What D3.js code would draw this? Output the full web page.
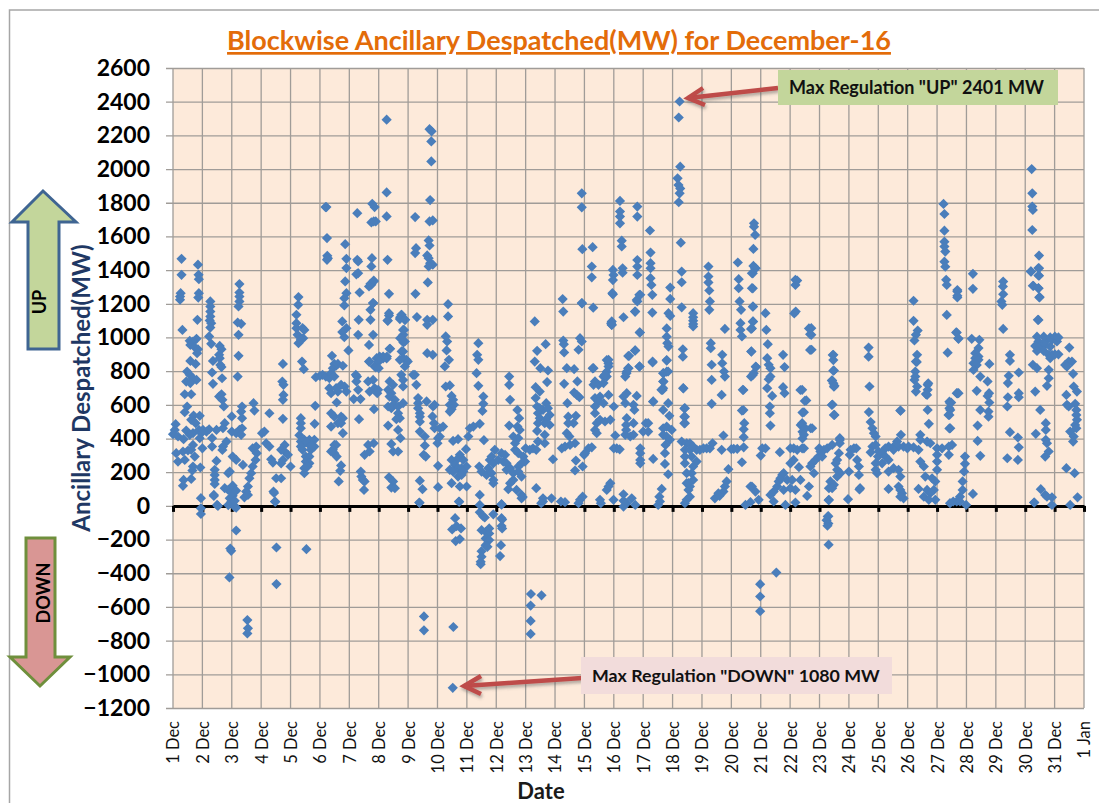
<!DOCTYPE html>
<html>
<head>
<meta charset="utf-8">
<script src="https://cdn.jsdelivr.net/npm/d3@7"></script>
<style>
  body { margin: 0; background: #fff; }
  text { font-family: Lato, "Open Sans", sans-serif; }
  .yAxis text { font-size: 23px; font-weight: 700; fill: #000; }
  .xAxis text { font-size: 16.5px; fill: #111; }
</style>
</head>
<body>
<div id="chart"></div>
<script>
// values: [fraction of the day, MW], one list per day
const dec01 = [[.29,1467],[.29,1372],[.26,1263],[.24,1243],[.24,1224],[.32,1045],[.85,1432],[.87,1372],[.88,1346],[.88,1263],[.86,1237],[.83,1105],[.8,992],[.57,980],[.68,976],[.59,956],[.74,942],[.85,930],[.82,907],[.59,861],[.77,843],[.48,798],[.57,778],[.68,758],[.45,738],[.8,748],[.59,729],[.4,663],[.62,663],[.48,590],[.4,556],[.7,536],[.91,535],[.62,511],[.77,491],[.09,485],[.06,451],[0,426],[.17,412],[.36,396],[.45,447],[.57,422],[.68,432],[.88,451],[.96,432],[.91,402],[.11,313],[.34,323],[.51,329],[.68,362],[.62,333],[.74,293],[.4,273],[.17,263],[.68,234],[.66,210],[.93,228],[.36,154],[.62,160],[.34,119],[.95,46],[.95,-14],[.95,-48]];
const dec02 = [[.27,1214],[.27,1184],[.27,1154],[.27,1125],[.25,1101],[.3,1085],[.27,1059],[.23,1006],[.3,962],[.59,950],[.65,930],[.57,897],[.36,861],[.59,877],[.61,837],[.65,824],[.33,792],[.67,758],[.36,725],[.65,663],[.57,649],[.68,630],[.73,590],[.76,491],[.7,461],[.48,451],[.14,441],[.02,451],[.23,455],[.33,402],[.33,352],[0,342],[.82,382],[.7,352],[.68,332],[.48,267],[.42,214],[.42,184],[.42,154],[.42,130],[.39,65],[.5,6],[.88,194],[.93,204],[.76,105],[.88,95],[.99,85],[.93,45],[.99,25],[.88,5],[.39,59],[.53,0],[.95,-253],[.98,-267],[.92,-425]];
const dec03 = [[0,531],[.26,1317],[.26,1267],[.26,1243],[.26,1214],[.23,1184],[.2,1089],[.32,1081],[.23,1016],[.23,891],[.2,768],[.74,610],[.35,590],[.32,560],[.77,566],[.35,521],[0,441],[.26,451],[.35,461],[.15,432],[.32,422],[.03,293],[.15,273],[.38,243],[.71,342],[.83,352],[.85,313],[.81,273],[.71,234],[.66,194],[.6,164],[.55,115],[.49,85],[.43,51],[.55,65],[.09,-4],[.03,60],[.03,120],[.15,90],[.15,-10],[.1,30],[.15,-146],[.53,-678],[.55,-727],[.53,-757]];
const dec04 = [[.74,843],[.72,738],[.76,719],[.76,659],[.74,630],[.74,517],[.28,550],[.11,441],[.03,432],[.17,372],[.28,352],[.34,277],[.4,257],[.8,362],[.68,333],[.8,323],[.91,303],[.74,273],[.68,253],[1,234],[.51,164],[.68,164],[.42,85],[.47,26],[.44,77],[.48,24],[.52,-247],[.52,-464]];
const dec05 = [[.27,1240],[.26,1194],[.2,1135],[.2,1085],[.2,1055],[.24,1016],[.27,966],[.41,1055],[.47,1045],[.43,996],[.35,986],[.39,857],[.45,812],[.84,594],[.82,487],[.35,521],[.35,491],[.35,461],[.47,392],[.64,392],[.81,392],[.41,362],[.64,362],[.81,352],[.41,333],[.69,333],[.52,293],[.64,293],[.52,263],[.64,253],[.47,224],[.47,194],[.58,234],[.35,382],[.35,352],[.86,764],[.54,-257],[.3,420],[.55,380],[.72,360]];
const dec06 = [[.19,1774],[.22,1774],[.24,1590],[.25,1485],[.27,1470],[.24,1461],[.86,1554],[.9,1467],[.9,1412],[.86,1333],[.9,1263],[.83,1233],[.83,1190],[.76,1095],[.9,1055],[.76,1032],[.83,1002],[.97,923],[.41,891],[0,772],[.09,778],[.2,768],[.32,758],[.44,818],[.55,832],[.49,843],[.61,843],[.78,832],[.38,788],[.49,768],[.32,699],[.38,669],[.72,719],[.55,699],[.84,709],[.61,679],[.9,679],[.57,614],[.38,550],[.49,530],[.72,530],[.78,521],[.61,491],[.38,471],[.72,491],[.78,432],[.49,362],[.55,362],[.38,323],[.49,313],[.57,293],[.44,333],[.72,240],[.69,208],[.64,145]];
const dec07 = [[.27,1738],[.27,1461],[.3,1382],[.24,1375],[.35,1267],[.32,1105],[.3,1016],[.78,1794],[.86,1774],[.75,1683],[.9,1689],[.83,1689],[.77,1471],[.75,1422],[.83,1333],[.75,1313],[.67,1303],[.81,1204],[.72,1164],[.72,1105],[.81,1016],[.67,956],[.67,857],[.3,1451],[.22,778],[.26,768],[.24,739],[.3,689],[.15,634],[.38,634],[.33,515],[.72,1319],[.83,1338],[.81,1204],[.69,857],[.64,739],[.81,748],[.69,679],[.86,699],[.98,689],[.95,669],[.84,574],[.64,362],[.83,372],[.52,303],[.69,323],[.39,204],[.41,174],[.52,145],[.5,95],[.46,154],[.93,877],[.86,828],[.9,823],[.99,875]];
const dec08 = [[.27,2293],[.27,1861],[.27,1719],[.3,1461],[.35,1259],[.35,1130],[.3,1101],[.78,1134],[.9,1105],[.73,1120],[.86,1045],[.84,1016],[.73,996],[.84,970],[.39,933],[.78,917],[.05,875],[.15,875],[.27,875],[.03,887],[.15,887],[.28,887],[0,857],[0,818],[.37,933],[.35,1144],[.31,1099],[.77,1135],[.72,1109],[.89,1105],[.83,1045],[.77,992],[.89,976],[.83,917],[.72,867],[.83,877],[.94,867],[.99,857],[.89,828],[.77,778],[.83,748],[.83,709],[.37,739],[.49,719],[.32,689],[.43,669],[.37,649],[.55,630],[.49,600],[.32,590],[.43,580],[.66,590],[.83,610],[.66,550],[.72,521],[.6,515],[.32,477],[.66,451],[.74,402],[.43,368],[.49,323],[.66,323],[.35,170],[.49,145],[.43,109],[.55,105]];
const dec09 = [[.24,1715],[.27,1530],[.24,1501],[.25,1259],[.3,1121],[.7,1576],[.73,1546],[.65,1487],[.7,1471],[.75,1441],[.84,1432],[.7,1422],[.67,1327],[.73,2237],[.8,2224],[.79,2164],[.79,2045],[.75,1816],[.73,1689],[.84,1695],[.65,1105],[.65,1075],[.84,1105],[.65,907],[.84,897],[.23,778],[.28,719],[.38,20],[.4,150],[.49,99],[.34,640],[.63,620],[.34,610],[.34,580],[.4,550],[.4,530],[.4,500],[.4,441],[.57,412],[.57,358],[.53,303],[.6,293],[.17,778],[.85,590],[.9,600],[.83,531],[.88,491],[.9,461],[.39,18],[.54,-656],[.54,-739]];
const dec10 = [[.36,1198],[.36,1125],[.28,1006],[.33,976],[.31,923],[.39,867],[.25,828],[.28,709],[.42,715],[.48,653],[.53,630],[.42,600],[.56,600],[.48,574],[.42,560],[.19,471],[.08,461],[.02,402],[.08,412],[0,372],[.53,386],[.7,396],[.48,273],[.76,303],[.97,337],[.65,273],[.88,273],[.42,214],[.59,243],[.7,224],[.82,224],[.99,234],[.53,204],[.88,204],[.7,174],[.82,184],[.48,135],[.76,115],[.99,115],[.02,238],[.02,111],[.73,26],[.6,-73],[.5,-140],[.65,-120],[.8,-134],[.62,-209],[.76,-197],[.74,24],[.54,-719],[.52,-1080]];
const dec11 = [[.39,966],[.35,897],[.39,867],[.33,788],[.39,713],[.56,649],[.56,606],[.53,564],[.44,487],[.22,471],[.1,461],[.05,412],[.58,390],[.42,234],[.5,204],[.67,184],[.84,293],[.78,273],[.95,333],[.73,224],[.9,253],[.84,194],[.9,154],[.9,135],[.44,65],[.44,6],[.44,-38],[.56,-63],[.61,-69],[.5,-144],[.64,-154],[.76,-134],[.76,-164],[.64,-193],[.76,-203],[.64,-233],[.7,-243],[.5,-269],[.5,-302],[.47,-332],[.47,-346],[.9,-50]];
const dec12 = [[.44,768],[.44,719],[.47,630],[.72,570],[.78,521],[.44,477],[.72,471],[.8,451],[.58,412],[.75,402],[.64,372],[.64,333],[.75,313],[.92,293],[.98,263],[.18,313],[.3,303],[.07,273],[.24,263],[.35,253],[.86,253],[.75,234],[.35,214],[.47,224],[.58,194],[.75,204],[.86,174],[.58,154],[.47,135],[.41,99],[.69,95],[.86,65],[.86,45],[.18,10],[.18,-73],[.18,8],[.2,-81],[.18,-120],[.2,-134],[.16,-233],[.13,-298],[.9,53]];
const dec13 = [[.31,1095],[.68,960],[.39,921],[.31,857],[.76,804],[.5,818],[.73,735],[.34,705],[.48,679],[.34,640],[.7,610],[.39,590],[.59,570],[.48,580],[.76,580],[.42,550],[.82,540],[.48,521],[.7,515],[.65,491],[.42,491],[.82,481],[.39,445],[.65,422],[.42,382],[.65,372],[0,342],[.14,333],[.25,342],[.36,333],[.93,277],[.36,105],[.59,26],[.88,45],[.59,45],[.53,16],[.18,-523],[.17,-592],[.17,-683],[.17,-760],[.54,-531]];
const dec14 = [[.91,1856],[.91,1773],[.93,1524],[.92,1203],[.26,1228],[.28,1154],[.28,982],[.3,960],[.31,911],[.4,818],[.65,812],[.91,1204],[.85,996],[.91,976],[.8,927],[.76,739],[.31,725],[.65,673],[.74,659],[.83,645],[.42,610],[.45,530],[.71,535],[.63,491],[.45,491],[.4,432],[.49,412],[.68,372],[.51,362],[.23,342],[.34,352],[.2,26],[.34,22],[.8,16],[.94,55],[.85,36],[.71,269],[.68,210],[.94,234],[.99,303]];
const dec15 = [[.28,1536],[.25,1421],[.25,1357],[.3,1177],[.97,1401],[.99,1371],[.97,1341],[.97,1256],[.91,1084],[.93,1074],[.93,1095],[.93,1075],[.95,1263],[.28,817],[.76,866],[.82,846],[.76,797],[.65,768],[.31,818],[.36,739],[.31,719],[.48,719],[.65,729],[.76,768],[.7,778],[.82,867],[.82,828],[.36,640],[.53,649],[.82,659],[.48,620],[.65,610],[.36,590],[.36,550],[.42,491],[.53,511],[.7,501],[.88,511],[.36,451],[.42,432],[1,590],[.14,342],[.25,348],[.02,313],[.88,135],[.76,95],[.82,115],[.53,36],[.56,16],[.99,36]];
const dec16 = [[.21,1811],[.21,1748],[.21,1718],[.21,1678],[.27,1575],[.27,1540],[.3,1411],[.3,1385],[.33,1120],[.8,1777],[.8,1718],[.8,1460],[.8,1421],[.8,1371],[.87,1253],[.78,1223],[.72,1154],[.89,1029],[.72,922],[.49,890],[.49,817],[.87,827],[.43,787],[.05,418],[.73,1154],[.8,1214],[.9,1253],[.88,1030],[.52,891],[.73,923],[.5,818],[.44,798],[.39,768],[.88,828],[.44,669],[.33,649],[.78,653],[.39,610],[.67,600],[.7,570],[.44,521],[.67,491],[.42,481],[.42,451],[.39,422],[.56,412],[.67,422],[.9,342],[.9,313],[.9,273],[.9,253],[0,342],[.1,342],[.2,336],[.33,69],[.61,45],[.33,-4],[.44,16],[.73,6],[.33,30]];
const dec17 = [[.23,1635],[.25,1504],[.25,1441],[.25,1411],[.25,1352],[.28,1312],[.31,1253],[.31,1148],[.92,1296],[.92,1229],[.86,1144],[.92,1128],[.8,1054],[.8,1005],[.82,966],[.86,946],[.8,866],[.32,852],[.8,797],[.69,787],[.69,738],[.66,688],[.34,619],[.32,857],[.8,863],[.34,620],[.68,570],[.85,610],[.89,535],[.68,788],[.85,798],[.68,739],[.68,699],[.62,689],[.09,491],[.17,491],[0,441],[.17,441],[.68,461],[.8,471],[.68,422],[.97,451],[.8,412],[.91,392],[.76,362],[.74,313],[.74,249],[.85,188],[.34,279],[.63,101],[.55,55],[.51,6],[.57,26]];
const dec18 = [[.24,2401],[.21,2306],[.26,2014],[.17,1945],[.2,1905],[.26,1885],[.24,1856],[.21,1803],[.28,1563],[.31,1391],[.31,1328],[.31,1179],[.35,930],[.35,886],[.37,698],[.4,579],[.4,530],[.4,490],[.7,1144],[.7,1120],[.7,1100],[.7,1080],[.7,1065],[.36,699],[.42,580],[.42,530],[.42,491],[.31,382],[.48,372],[.42,333],[.59,333],[.42,293],[.65,293],[.42,253],[.59,372],[.7,352],[.82,333],[.93,333],[.82,263],[.7,234],[.65,194],[.48,194],[.7,154],[.59,115],[.54,95],[.48,135],[.59,55],[.48,36],[.42,16],[.54,135]];
const dec19 = [[.22,1421],[.22,1362],[.22,1327],[.25,1279],[.27,1214],[.25,1164],[.3,966],[.3,936],[.33,838],[.33,748],[.33,606],[.69,897],[.69,847],[.75,798],[.78,768],[.67,659],[.78,1051],[.73,418],[.67,333],[.36,372],[.27,342],[.16,342],[.05,342],[.9,218],[.84,145],[.78,115],[.73,85],[.56,75],[.44,45],[.6,60]];
const dec20 = [[.22,1445],[.25,1346],[.25,1293],[.28,1214],[.33,1164],[.31,1085],[.31,1045],[.36,1006],[.39,689],[.36,566],[.44,491],[.42,455],[.42,408],[.08,339],[0,337],[.2,339],[.42,348],[.36,259],[.48,6],[.65,22],[.7,115],[.82,85],[.93,36],[.65,115],[.75,1425],[.83,1411],[.7,1382],[.7,1293],[.74,1184],[.74,1095],[.67,1051],[.68,917],[.84,824],[.76,788],[.67,768],[.77,1678],[.77,1658],[.81,1609],[.75,1526],[.81,1411],[.73,1381],[.73,1292],[.73,1183],[.73,1094],[.7,1054],[.68,916],[.83,827],[.73,777],[.41,688],[.41,569],[.98,-465],[.98,-538],[.98,-625]];
const dec21 = [[.16,1144],[.19,1045],[.24,960],[.22,877],[.27,838],[.33,818],[.33,768],[.27,752],[.22,699],[.39,653],[.31,590],[.31,550],[.33,477],[.05,342],[.16,342],[0,299],[.76,897],[.81,824],[.76,705],[.81,669],[.65,319],[.33,65],[.44,85],[.56,115],[.61,145],[.73,184],[.67,164],[.78,194],[.44,26],[.84,6],[.9,154],[.78,95],[.53,-396]];
const dec22 = [[.18,1342],[.18,1312],[.14,1143],[.64,1054],[.68,1019],[.68,926],[.35,688],[.5,623],[.42,554],[.36,480],[.7,461],[.42,440],[.42,400],[.24,1338],[.19,1154],[.72,1055],[.72,1016],[.73,927],[.41,689],[.55,626],[.47,556],[.41,491],[.52,461],[.75,461],[.47,422],[.41,342],[.01,342],[.12,342],[.24,333],[.47,342],[.01,253],[.12,273],[.3,230],[.07,154],[.35,154],[.01,105],[.18,95],[.64,115],[.58,59],[.18,20],[.75,253],[.86,273],[.97,293],[.81,194],[.69,234],[.99,342]];
const dec23 = [[.45,896],[.47,866],[.47,803],[.42,744],[.47,728],[.49,708],[.42,599],[.49,540],[.69,391],[.47,897],[.49,804],[.43,745],[.51,713],[.44,602],[.51,540],[.69,402],[.69,372],[.43,362],[.26,342],[.15,333],[.03,323],[.09,293],[.66,313],[.6,273],[.55,253],[.6,214],[.71,194],[.6,174],[.37,145],[.49,125],[.32,105],[.43,105],[.32,36],[.97,40],[.28,-63],[.3,-61],[.24,-85],[.3,-105],[.27,-118],[.31,-230],[.31,34]];
const dec24 = [[.67,940],[.67,886],[.7,709],[.68,557],[.74,498],[.8,461],[.85,432],[.91,412],[.17,342],[.25,342],[.06,333],[.03,303],[.28,273],[.34,234],[.34,184],[0,204],[.38,105],[.8,352],[.74,318],[.91,362],[.91,253],[.96,194],[.91,214],[.99,293],[.36,98]];
const dec25 = [[.76,565],[.75,566],[.77,422],[.64,382],[.58,362],[.69,352],[.52,333],[.35,352],[.24,342],[.01,323],[.13,313],[.24,293],[.35,273],[.13,253],[.35,204],[.52,224],[.69,214],[.75,174],[.69,115],[.75,95],[.35,101],[.81,75],[.86,45],[.75,55],[.86,352],[.99,342]];
const dec26 = [[.2,1218],[.2,1099],[.34,1041],[.28,1016],[.23,982],[.32,897],[.28,857],[.26,798],[.26,768],[.23,748],[.32,709],[.28,679],[.68,719],[.68,689],[.66,659],[.68,570],[.72,487],[.43,422],[.43,392],[.03,352],[.2,348],[.37,333],[.66,382],[.77,372],[.43,263],[.55,234],[.6,174],[.83,164],[.37,101],[.94,145],[.89,95],[.66,95],[.77,75],[.55,55],[.94,36],[.72,36],[.7,728],[.62,664],[.31,855]];
const dec27 = [[.22,1793],[.25,1733],[.25,1634],[.25,1569],[.25,1540],[.28,1510],[.25,1450],[.28,1420],[.31,1342],[.33,1312],[.33,1134],[.36,910],[.69,1282],[.69,1238],[.67,1029],[.72,995],[.69,668],[.42,619],[.42,580],[.42,540],[.42,460],[.45,610],[.45,570],[.39,540],[.45,461],[0,342],[.17,342],[.4,352],[.51,362],[.4,303],[0,303],[0,263],[0,214],[.99,6],[.95,293],[.95,250],[.92,204],[.87,145],[.87,95],[.78,55],[.67,26],[.55,26],[.44,16],[.78,26],[.65,1030],[.73,992],[.69,1273],[.69,1247],[.48,614],[.67,669],[.73,669]];
const dec28 = [[.22,1378],[.22,1289],[.18,992],[.44,986],[.41,937],[.3,907],[.41,887],[.3,877],[.41,867],[.24,847],[.35,837],[.24,807],[.78,843],[.47,768],[.72,739],[.35,683],[.77,669],[.72,653],[.78,614],[.47,570],[.75,560],[.75,530],[.38,477],[.38,386],[.47,297],[.22,71]];
const dec29 = [[.25,1332],[.24,1303],[.25,1257],[.19,1214],[.22,1194],[.25,1051],[.48,897],[.48,861],[.44,772],[.41,729],[.78,792],[.78,669],[.41,645],[.78,645],[.39,590],[.48,438],[.75,406],[.78,348],[.39,283],[.75,273]];
const dec30 = [[.19,1392],[.45,1412],[.45,1368],[.26,1307],[.45,1293],[.49,1240],[.43,1105],[.22,2000],[.24,1856],[.24,1777],[.26,1757],[.24,1638],[.2,1391],[.47,1486],[.47,1411],[.47,1367],[.28,1306],[.45,1292],[.48,1238],[.45,1104],[.4,1005],[.63,1005],[.85,1000],[.45,976],[.68,976],[.91,986],[.34,950],[.51,946],[.68,956],[.85,946],[.4,920],[.63,920],[.8,897],[.91,897],[.85,877],[.26,838],[.4,818],[.8,808],[.8,758],[.74,713],[.34,679],[.51,570],[.7,491],[.7,451],[.7,392],[.74,372],[.36,428],[.8,323],[.68,293],[.53,99],[.68,65],[.91,51],[.31,20],[.91,6],[.74,55],[.3,20]];
const dec31 = [[.5,940],[.48,857],[.59,857],[.36,837],[.42,827],[.63,784],[.65,709],[.76,679],[.4,659],[.42,600],[.48,590],[.7,606],[.74,570],[.74,540],[.76,511],[.7,481],[.74,461],[.53,441],[.65,412],[.63,382],[.4,224],[.68,194],[.78,51],[.53,6],[.01,1005],[.08,976],[.13,1000],[.01,900],[.13,900]];

const dayLists = [dec01, dec02, dec03, dec04, dec05, dec06, dec07, dec08, dec09, dec10, dec11, dec12, dec13, dec14, dec15, dec16,
  dec17, dec18, dec19, dec20, dec21, dec22, dec23, dec24, dec25, dec26, dec27, dec28, dec29, dec30, dec31];
const dateLabels = ["1 Dec","2 Dec","3 Dec","4 Dec","5 Dec","6 Dec","7 Dec","8 Dec","9 Dec","10 Dec","11 Dec","12 Dec","13 Dec","14 Dec","15 Dec","16 Dec",
  "17 Dec","18 Dec","19 Dec","20 Dec","21 Dec","22 Dec","23 Dec","24 Dec","25 Dec","26 Dec","27 Dec","28 Dec","29 Dec","30 Dec","31 Dec","1 Jan"];
const mwTicks = [-1200,-1000,-800,-600,-400,-200,0,200,400,600,800,1000,1200,1400,1600,1800,2000,2200,2400,2600];

const width = 1099;
const height = 803;
const margin = { top: 68, left: 173, right: 15, bottom: 95 };

const svg = d3.select("#chart").append("svg")
  .attr("width", width)
  .attr("height", height)
  .style("display", "block");

const shadow = svg.append("defs").append("filter")
  .attr("id", "shadow").attr("x", "-20%").attr("y", "-50%").attr("width", "140%").attr("height", "220%");
shadow.append("feDropShadow")
  .attr("dx", 1).attr("dy", 2.5).attr("stdDeviation", 1.5)
  .attr("flood-color", "#555").attr("flood-opacity", 0.45);

const xScale = d3.scaleLinear().domain([0, 31]).range([margin.left, width - margin.right]);
const yScale = d3.scaleLinear().domain([-1200, 2600]).range([height - margin.bottom, margin.top]);

// outer frame, only top and left show in the picture
svg.append("path")
  .attr("d", "M9.5,803V10H1099")
  .attr("fill", "none").attr("stroke", "#a6a6a6").attr("stroke-width", 1.5);

// plot area and grid
svg.append("rect")
  .attr("x", xScale(0)).attr("y", yScale(2600))
  .attr("width", xScale(31) - xScale(0)).attr("height", yScale(-1200) - yScale(2600))
  .attr("fill", "#fdeada");

svg.selectAll(".gridX").data(d3.range(0, 32)).enter().append("line")
  .attr("x1", d => xScale(d)).attr("x2", d => xScale(d))
  .attr("y1", yScale(2600)).attr("y2", yScale(-1200))
  .attr("stroke", "#a09c98").attr("stroke-width", 1.3);

// y axis, the ticks are the grid lines running out to the left
svg.append("g")
  .attr("class", "yAxis")
  .attr("transform", `translate(${xScale(0)},0)`)
  .call(d3.axisLeft(yScale).tickValues(mwTicks).tickSize(7).tickPadding(16).tickFormat(d3.format("d")))
  .call(g => g.select(".domain").remove())
  .call(g => g.selectAll("line").attr("stroke", "#a09c98").attr("stroke-width", 1.3)
    .attr("x2", xScale(31) - xScale(0)).attr("x1", -7));

// x axis labels under the plot
svg.append("g")
  .attr("class", "xAxis")
  .attr("transform", `translate(0,${yScale(-1200)})`)
  .call(d3.axisBottom(xScale).tickValues(d3.range(0, 32)).tickSize(0).tickFormat(d => dateLabels[d]))
  .call(g => g.select(".domain").remove())
  .call(g => g.selectAll("text")
    .attr("transform", "rotate(-90)")
    .attr("text-anchor", "end")
    .attr("x", -13).attr("y", 0).attr("dy", "0.36em"));

// zero line with its little tick marks
svg.append("g")
  .attr("transform", `translate(0,${yScale(0)})`)
  .call(d3.axisBottom(xScale).tickValues(d3.range(0, 32)).tickSize(6).tickFormat("").tickSizeOuter(0))
  .call(g => g.select(".domain").attr("stroke", "#000").attr("stroke-width", 3))
  .call(g => g.selectAll("line").attr("stroke", "#000").attr("stroke-width", 3));

// points
const points = dayLists.flatMap((list, i) => list.map(p => ({ t: i + p[0], mw: p[1] })));
const diamond = d3.symbol().type(d3.symbolSquare).size(52);
svg.selectAll(".point").data(points).enter().append("path")
  .attr("class", "point")
  .attr("d", diamond)
  .attr("transform", d => `translate(${xScale(d.t)},${yScale(d.mw)}) rotate(45)`)
  .attr("fill", "#4a7ebb");

// titles
svg.append("text")
  .attr("x", 559).attr("y", 50)
  .attr("text-anchor", "middle")
  .attr("font-size", 27).attr("font-weight", 700)
  .attr("fill", "#e36c09").attr("text-decoration", "underline")
  .text("Blockwise Ancillary Despatched(MW) for December-16");

svg.append("text")
  .attr("transform", "translate(90,388) rotate(-90)")
  .attr("text-anchor", "middle")
  .attr("font-size", 24).attr("font-weight", 700)
  .attr("fill", "#1f3864")
  .text("Ancillary Despatched(MW)");

svg.append("text")
  .attr("x", 541).attr("y", 799)
  .attr("text-anchor", "middle")
  .attr("font-size", 22).attr("font-weight", 700)
  .attr("fill", "#1a1a1a")
  .text("Date");

// UP and DOWN block arrows
svg.append("path")
  .attr("d", "M43,191L76,222H59V349H28V222H12Z")
  .attr("fill", "#c3d69b").attr("stroke", "#3f6592").attr("stroke-width", 3);
svg.append("text")
  .attr("transform", "translate(46,302) rotate(-90)")
  .attr("text-anchor", "middle")
  .attr("font-size", 18).attr("font-weight", 700).attr("fill", "#000")
  .text("UP");

svg.append("path")
  .attr("d", "M26,538H55V657H70L40,686L10,657H26Z")
  .attr("fill", "#d99694").attr("stroke", "#6f8f3c").attr("stroke-width", 3);
svg.append("text")
  .attr("transform", "translate(50,593) rotate(-90)")
  .attr("text-anchor", "middle")
  .attr("font-size", 18).attr("font-weight", 700).attr("fill", "#000")
  .text("DOWN");

// callout boxes with red arrows
const arrowLine = d3.line();
function redArrow(from, tip, wingA, wingB) {
  const g = svg.append("g").attr("filter", "url(#shadow)");
  g.append("path").attr("d", arrowLine([from, tip]));
  g.append("path").attr("d", arrowLine([wingA, tip, wingB]));
  g.selectAll("path").attr("fill", "none").attr("stroke", "#be4b48").attr("stroke-width", 4.5);
}
redArrow([778, 88], [688, 98], [703, 88], [705, 105]);
redArrow([582, 678], [464, 686], [481, 676], [481, 694]);

svg.append("rect").attr("x", 778).attr("y", 70).attr("width", 280).attr("height", 35).attr("fill", "#c3d69b");
svg.append("text").attr("x", 789).attr("y", 94)
  .attr("font-size", 18).attr("font-weight", 700).attr("fill", "#111")
  .text('Max Regulation "UP" 2401 MW');

svg.append("rect").attr("x", 581).attr("y", 657).attr("width", 311).attr("height", 37).attr("fill", "#f2dcdb");
svg.append("text").attr("x", 592).attr("y", 682)
  .attr("font-size", 17.8).attr("font-weight", 700).attr("fill", "#111")
  .text('Max Regulation "DOWN" 1080 MW');
</script>
</body>
</html>
